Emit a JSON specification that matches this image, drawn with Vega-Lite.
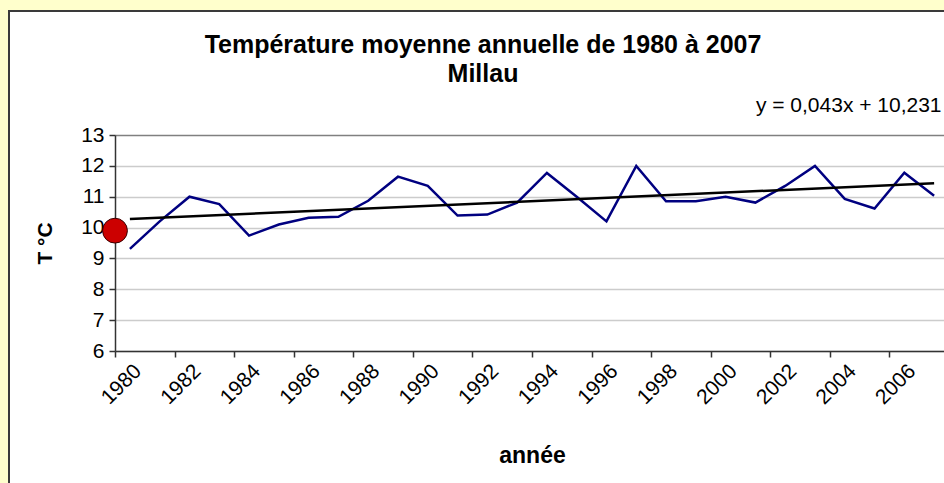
{
  "$schema": "https://vega.github.io/schema/vega-lite/v6.json",
  "width": 940,
  "height": 476,
  "autosize": {"type": "none"},
  "padding": {"left": 9, "top": 11, "right": -5, "bottom": -4},
  "background": "#FFFFCC",
  "title": {
    "text": ["Température moyenne annuelle de 1980 à 2007", "Millau"],
    "anchor": "middle",
    "frame": "group",
    "font": "Liberation Sans",
    "fontSize": 25,
    "fontWeight": "bold",
    "color": "black",
    "lineHeight": 29,
    "offset": -76,
    "dx": 4
  },
  "datasets": {
    "temps": [
      {"year": 1980, "temp": 9.31},
      {"year": 1981, "temp": 10.2},
      {"year": 1982, "temp": 11.0},
      {"year": 1983, "temp": 10.76},
      {"year": 1984, "temp": 9.74},
      {"year": 1985, "temp": 10.1},
      {"year": 1986, "temp": 10.32},
      {"year": 1987, "temp": 10.35},
      {"year": 1988, "temp": 10.87},
      {"year": 1989, "temp": 11.65},
      {"year": 1990, "temp": 11.35},
      {"year": 1991, "temp": 10.39},
      {"year": 1992, "temp": 10.42},
      {"year": 1993, "temp": 10.81},
      {"year": 1994, "temp": 11.77},
      {"year": 1995, "temp": 11.0},
      {"year": 1996, "temp": 10.2},
      {"year": 1997, "temp": 12.0},
      {"year": 1998, "temp": 10.85},
      {"year": 1999, "temp": 10.85},
      {"year": 2000, "temp": 11.0},
      {"year": 2001, "temp": 10.81},
      {"year": 2002, "temp": 11.35},
      {"year": 2003, "temp": 12.0},
      {"year": 2004, "temp": 10.93},
      {"year": 2005, "temp": 10.62},
      {"year": 2006, "temp": 11.78},
      {"year": 2007, "temp": 11.03}
    ],
    "trend": [
      {"year": 1980, "temp": 10.274},
      {"year": 2007, "temp": 11.435}
    ],
    "marker": [
      {"year": 1979.5, "temp": 9.9}
    ],
    "equation": [
      {"label": "y = 0,043x + 10,231"}
    ]
  },
  "layer": [
    {
      "data": {"name": "temps"},
      "mark": {"type": "line", "color": "#000080", "strokeWidth": 2.5},
      "encoding": {
        "x": {
          "field": "year",
          "type": "quantitative",
          "scale": {"domain": [1979.5, 2007.5], "range": [106, 940], "nice": false, "zero": false},
          "axis": {
            "title": "année",
            "values": [1979.5, 1980.5, 1981.5, 1982.5, 1983.5, 1984.5, 1985.5, 1986.5, 1987.5, 1988.5, 1989.5, 1990.5, 1991.5, 1992.5, 1993.5, 1994.5, 1995.5, 1996.5, 1997.5, 1998.5, 1999.5, 2000.5, 2001.5, 2002.5, 2003.5, 2004.5, 2005.5, 2006.5, 2007.5],
            "labelExpr": "(datum.value - 1979.5) % 2 == 0 && datum.value < 2007 ? format(datum.value + 0.5, 'd') : ''",
            "labelAngle": -45,
            "labelOffset": 14.9,
            "labelFlush": false,
            "labelOverlap": false,
            "labelBound": false,
            "labelFontSize": 21,
            "labelColor": "black",
            "labelPadding": 3,
            "tickSize": 6,
            "tickColor": "#333333",
            "tickWidth": 1.5,
            "domainColor": "#333333",
            "domainWidth": 1.5,
            "grid": false,
            "offset": -136,
            "titleFontSize": 23,
            "titleFontWeight": "bold",
            "titleColor": "black",
            "titlePadding": 37
          }
        },
        "y": {
          "field": "temp",
          "type": "quantitative",
          "scale": {"domain": [6, 13], "range": [340, 124], "nice": false, "zero": false},
          "axis": {
            "title": "T °C",
            "values": [6, 7, 8, 9, 10, 11, 12, 13],
            "format": "d",
            "labelFontSize": 21,
            "labelColor": "black",
            "labelPadding": 5,
            "tickSize": 6,
            "tickColor": "#333333",
            "tickWidth": 1.5,
            "domainColor": "#333333",
            "domainWidth": 1.5,
            "grid": true,
            "gridColor": {"condition": {"test": "datum.value == 13", "value": "#808080"}, "value": "#CCCCCC"},
            "gridWidth": 1.5,
            "offset": -106,
            "titleFontSize": 21,
            "titleFontWeight": "bold",
            "titleColor": "black",
            "titlePadding": 25
          }
        }
      }
    },
    {
      "data": {"name": "trend"},
      "mark": {"type": "line", "color": "black", "strokeWidth": 2.5},
      "encoding": {
        "x": {"field": "year", "type": "quantitative"},
        "y": {"field": "temp", "type": "quantitative"}
      }
    },
    {
      "data": {"name": "marker"},
      "mark": {"type": "point", "shape": "circle", "filled": true, "fill": "#CC0000", "stroke": "#3a0000", "strokeWidth": 1, "opacity": 1, "size": 616},
      "encoding": {
        "x": {"field": "year", "type": "quantitative"},
        "y": {"field": "temp", "type": "quantitative"}
      }
    },
    {
      "data": {"name": "equation"},
      "mark": {"type": "text", "align": "right", "baseline": "alphabetic", "fontSize": 21, "font": "Liberation Sans", "color": "black"},
      "encoding": {
        "text": {"field": "label", "type": "nominal"},
        "x": {"datum": 2007.25, "type": "quantitative"},
        "y": {"datum": 13.74, "type": "quantitative"}
      }
    }
  ],
  "config": {
    "font": "Liberation Sans",
    "view": {"stroke": "#3a3a3a", "strokeWidth": 2, "fill": "white"},
    "axis": {"labelFont": "Liberation Sans", "titleFont": "Liberation Sans"}
  }
}
